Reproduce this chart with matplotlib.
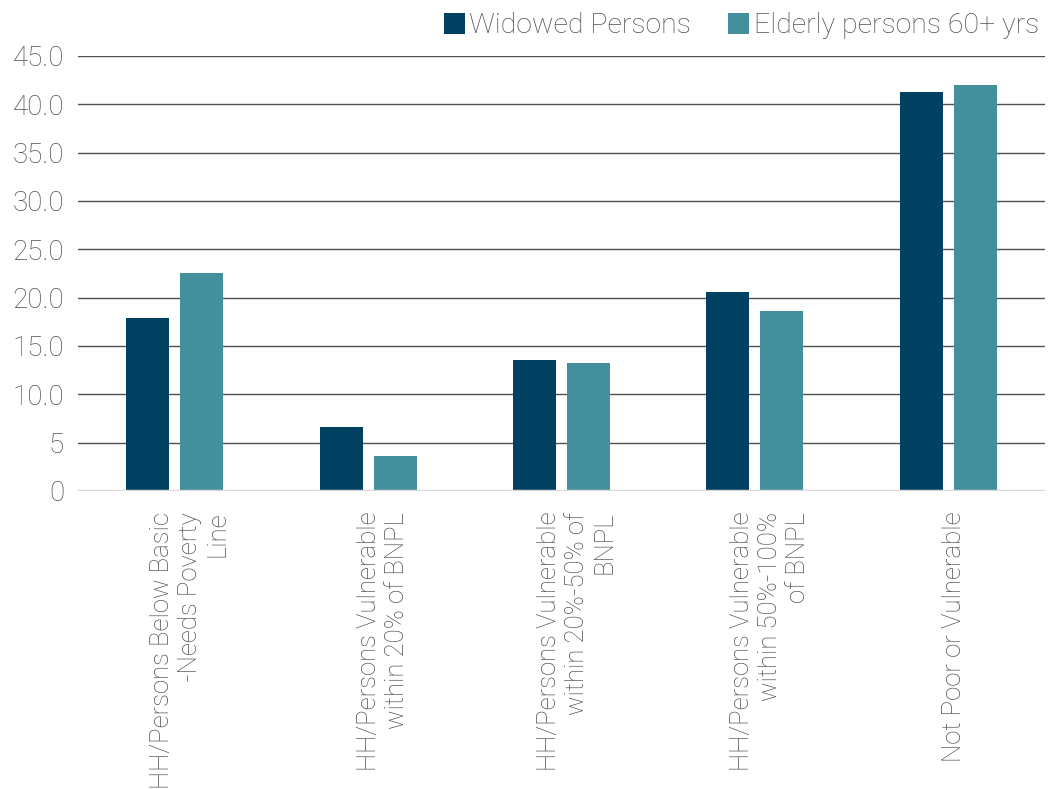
import matplotlib.pyplot as plt
import matplotlib.transforms as mtransforms
import numpy as np

# данные с графика
categories = [
    "HH/Persons Below Basic\n-Needs Poverty\nLine",
    "HH/Persons Vulnerable\nwithin 20% of BNPL",
    "HH/Persons Vulnerable\nwithin 20%-50% of\nBNPL",
    "HH/Persons Vulnerable\nwithin 50%-100%\nof BNPL",
    "Not Poor or Vulnerable",
]
widowed = [17.9, 6.6, 13.5, 20.6, 41.3]
elderly = [22.5, 3.6, 13.2, 18.6, 42.0]
series_names = ["Widowed Persons", "Elderly persons 60+ yrs"]
ytick_vals = [0, 5, 10, 15, 20, 25, 30, 35, 40, 45]
ytick_labels = ["0", "5", "10.0", "15.0", "20.0", "25.0", "30.0", "35.0", "40.0", "45.0"]

plt.rcParams['font.family'] = ['Roboto', 'DejaVu Sans']
plt.rcParams['font.weight'] = 'light'

text_col = '#505050'
c1 = '#004060'
c2 = '#43909C'

fig = plt.figure(figsize=(10.52, 7.89), dpi=100)
ax = fig.add_axes([78 / 1052, 1 - 491 / 789, (1045 - 78) / 1052, (491 - 56) / 789])

x = np.arange(len(categories))
w = 0.222
gap = 0.057
ax.bar(x - (w + gap) / 2, widowed, w, color=c1, label=series_names[0], zorder=3)
ax.bar(x + (w + gap) / 2, elderly, w, color=c2, label=series_names[1], zorder=3)

ax.set_xlim(-0.5, len(categories) - 0.5)
ax.set_ylim(0, 45)
ax.set_yticks(ytick_vals)
ax.set_yticklabels(ytick_labels, fontsize=20, color=text_col)
for v in ytick_vals[1:]:
    ax.axhline(v, color='#505050', lw=1.0, zorder=1)
ax.axhline(0, color='#D9D9D9', lw=2.5, zorder=4)

ax.set_xticks(x)
ax.set_xticklabels(categories, rotation=90, fontsize=18.5, color=text_col,
                   multialignment='right', linespacing=1.2)
ax.tick_params(axis='both', length=0)
ax.tick_params(axis='x', pad=15)
ax.tick_params(axis='y', pad=10)
for s in ax.spines.values():
    s.set_visible(False)

# подписи в оригинале чуть сдвинуты вправо
for lbl in ax.get_xticklabels():
    dx = 15 if '\n' in lbl.get_text() else 6
    lbl.set_transform(lbl.get_transform() +
                      mtransforms.ScaledTranslation(dx / 100, 0, fig.dpi_scale_trans))

fig.legend(loc='upper right', bbox_to_anchor=(1.012, 1.017), ncol=2, frameon=False,
           fontsize=20.5, labelcolor=text_col, handlelength=0.75, handleheight=0.75,
           handletextpad=0.15, columnspacing=1.3)

fig.savefig('out.png', dpi=100)
